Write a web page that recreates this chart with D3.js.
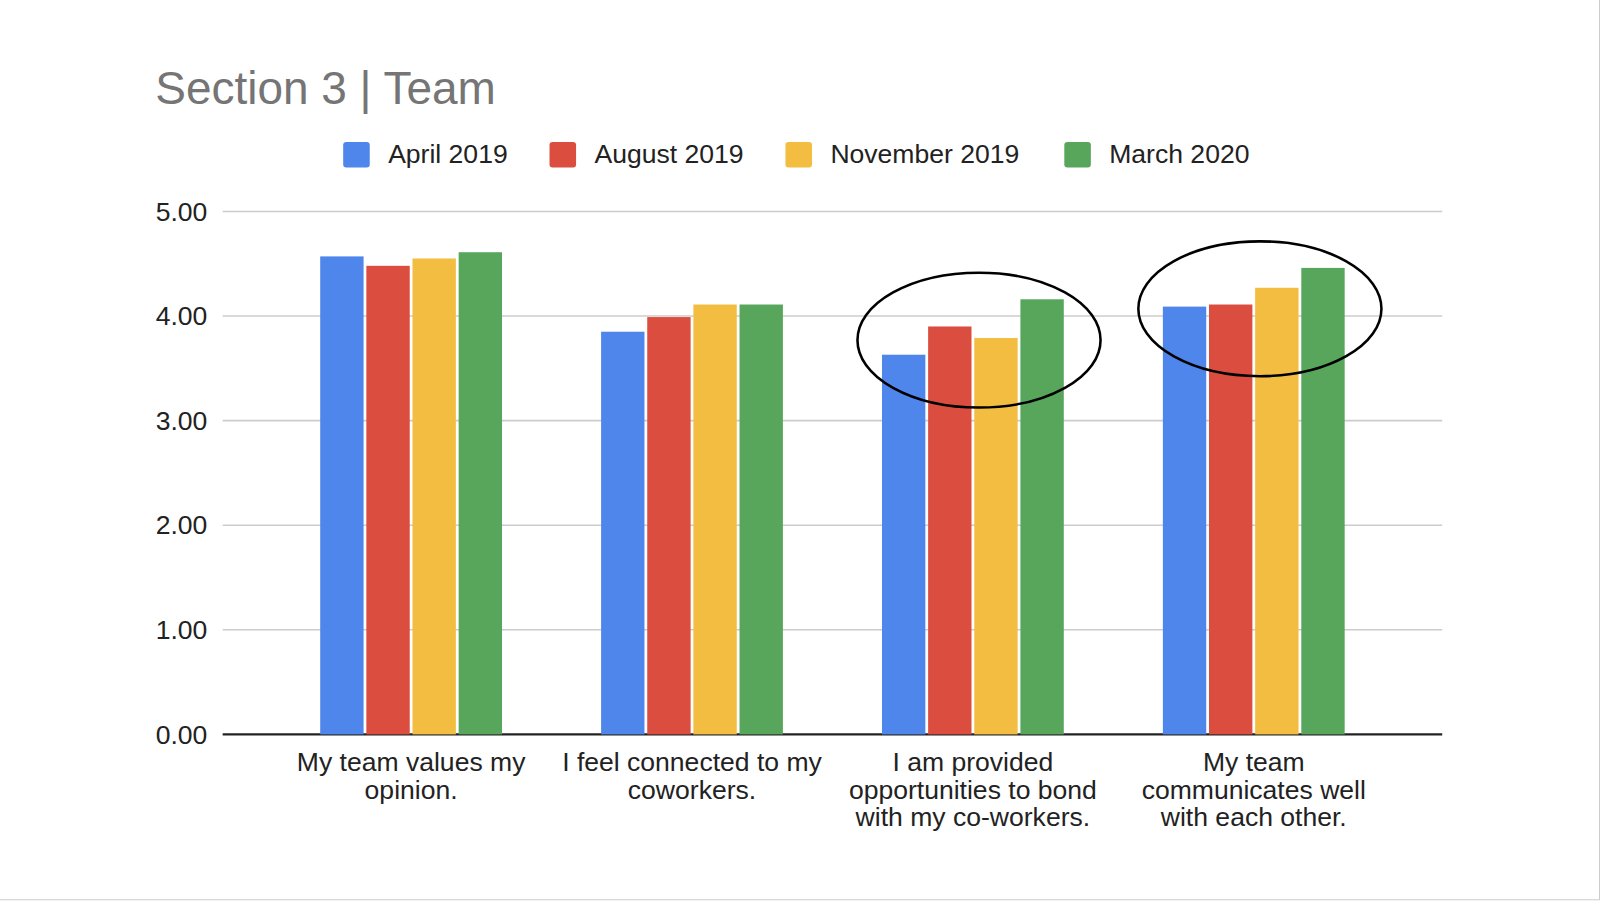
<!DOCTYPE html>
<html><head><meta charset="utf-8">
<script src="https://cdn.jsdelivr.net/npm/d3@7"></script>
<style>body{margin:0;background:#fff;font-family:Arial,"Liberation Sans",sans-serif;overflow:hidden}</style>
</head><body><div id="chart"></div>
<script>
// data
const categories = [
  ["My team values my", "opinion."],
  ["I feel connected to my", "coworkers."],
  ["I am provided", "opportunities to bond", "with my co-workers."],
  ["My team", "communicates well", "with each other."]
];
const seriesNames = ["April 2019", "August 2019", "November 2019", "March 2020"];
const seriesColors = ["#4f86ec", "#db4e3f", "#f3bd41", "#58a65c"];
const april2019 = [4.57, 3.85, 3.63, 4.09];
const august2019 = [4.48, 3.99, 3.90, 4.11];
const november2019 = [4.55, 4.11, 3.79, 4.27];
const march2020 = [4.61, 4.11, 4.16, 4.46];
const yTicks = [0, 1, 2, 3, 4, 5];
const circled = [2, 3];

const values = [april2019, august2019, november2019, march2020];
const W = 1600, H = 901;
const root = d3.select("#chart").append("svg").attr("width", W).attr("height", H);
const svg = root.append("g").attr("transform", "scale(1.0214)");

// slide border
svg.append("line").attr("x1", 0).attr("x2", 1568).attr("y1", 881).attr("y2", 881).attr("stroke", "#ccc");
svg.append("line").attr("x1", 1566).attr("x2", 1566).attr("y1", 0).attr("y2", 881).attr("stroke", "#ccc");

svg.append("text").attr("x", 152).attr("y", 102).text("Section 3 | Team")
  .attr("font-size", 45).attr("fill", "#757575");

const y = d3.scaleLinear().domain([0, 5]).range([719, 207]);
const x0 = d3.scaleBand().domain(d3.range(categories.length)).range([265, 1365]);
const x1 = d3.scaleBand().domain(d3.range(seriesNames.length)).range([0, 178]).paddingInner(0.06);

// gridlines + labels
yTicks.forEach(t => {
  svg.append("line").attr("x1", 218).attr("x2", 1412).attr("y1", y(t)).attr("y2", y(t))
    .attr("stroke", t === 0 ? "#222" : "#ccc").attr("stroke-width", t === 0 ? 2 : 1.5);
  svg.append("text").attr("x", 203).attr("y", y(t) + 9).attr("text-anchor", "end")
    .attr("font-size", 26).attr("fill", "#222").text(d3.format(".2f")(t));
});

// bars
categories.forEach((c, i) => {
  const gx = x0(i) + (x0.bandwidth() - 178) / 2;
  values.forEach((s, j) => {
    svg.append("rect").attr("x", gx + x1(j)).attr("width", x1.bandwidth())
      .attr("y", y(s[i])).attr("height", y(0) - y(s[i])).attr("fill", seriesColors[j]);
  });
  c.forEach((line, k) => {
    svg.append("text").attr("x", x0(i) + x0.bandwidth() / 2).attr("y", 755 + k * 27)
      .attr("text-anchor", "middle").attr("font-size", 26).attr("fill", "#222").text(line);
  });
});

// annotation ellipses
circled.forEach(i => {
  const top = d3.max(values, s => s[i]);
  svg.append("ellipse").attr("cx", x0(i) + x0.bandwidth() / 2 + 6).attr("cy", y(top) + 40)
    .attr("rx", 119).attr("ry", 66).attr("fill", "none").attr("stroke", "#000").attr("stroke-width", 2.5);
});

// legend
const legendX = [336, 538, 769, 1042];
seriesNames.forEach((n, j) => {
  svg.append("rect").attr("x", legendX[j]).attr("y", 139).attr("width", 26).attr("height", 25)
    .attr("rx", 3).attr("fill", seriesColors[j]);
  svg.append("text").attr("x", legendX[j] + 44).attr("y", 160).attr("font-size", 26)
    .attr("fill", "#222").text(n);
});
</script></body></html>
